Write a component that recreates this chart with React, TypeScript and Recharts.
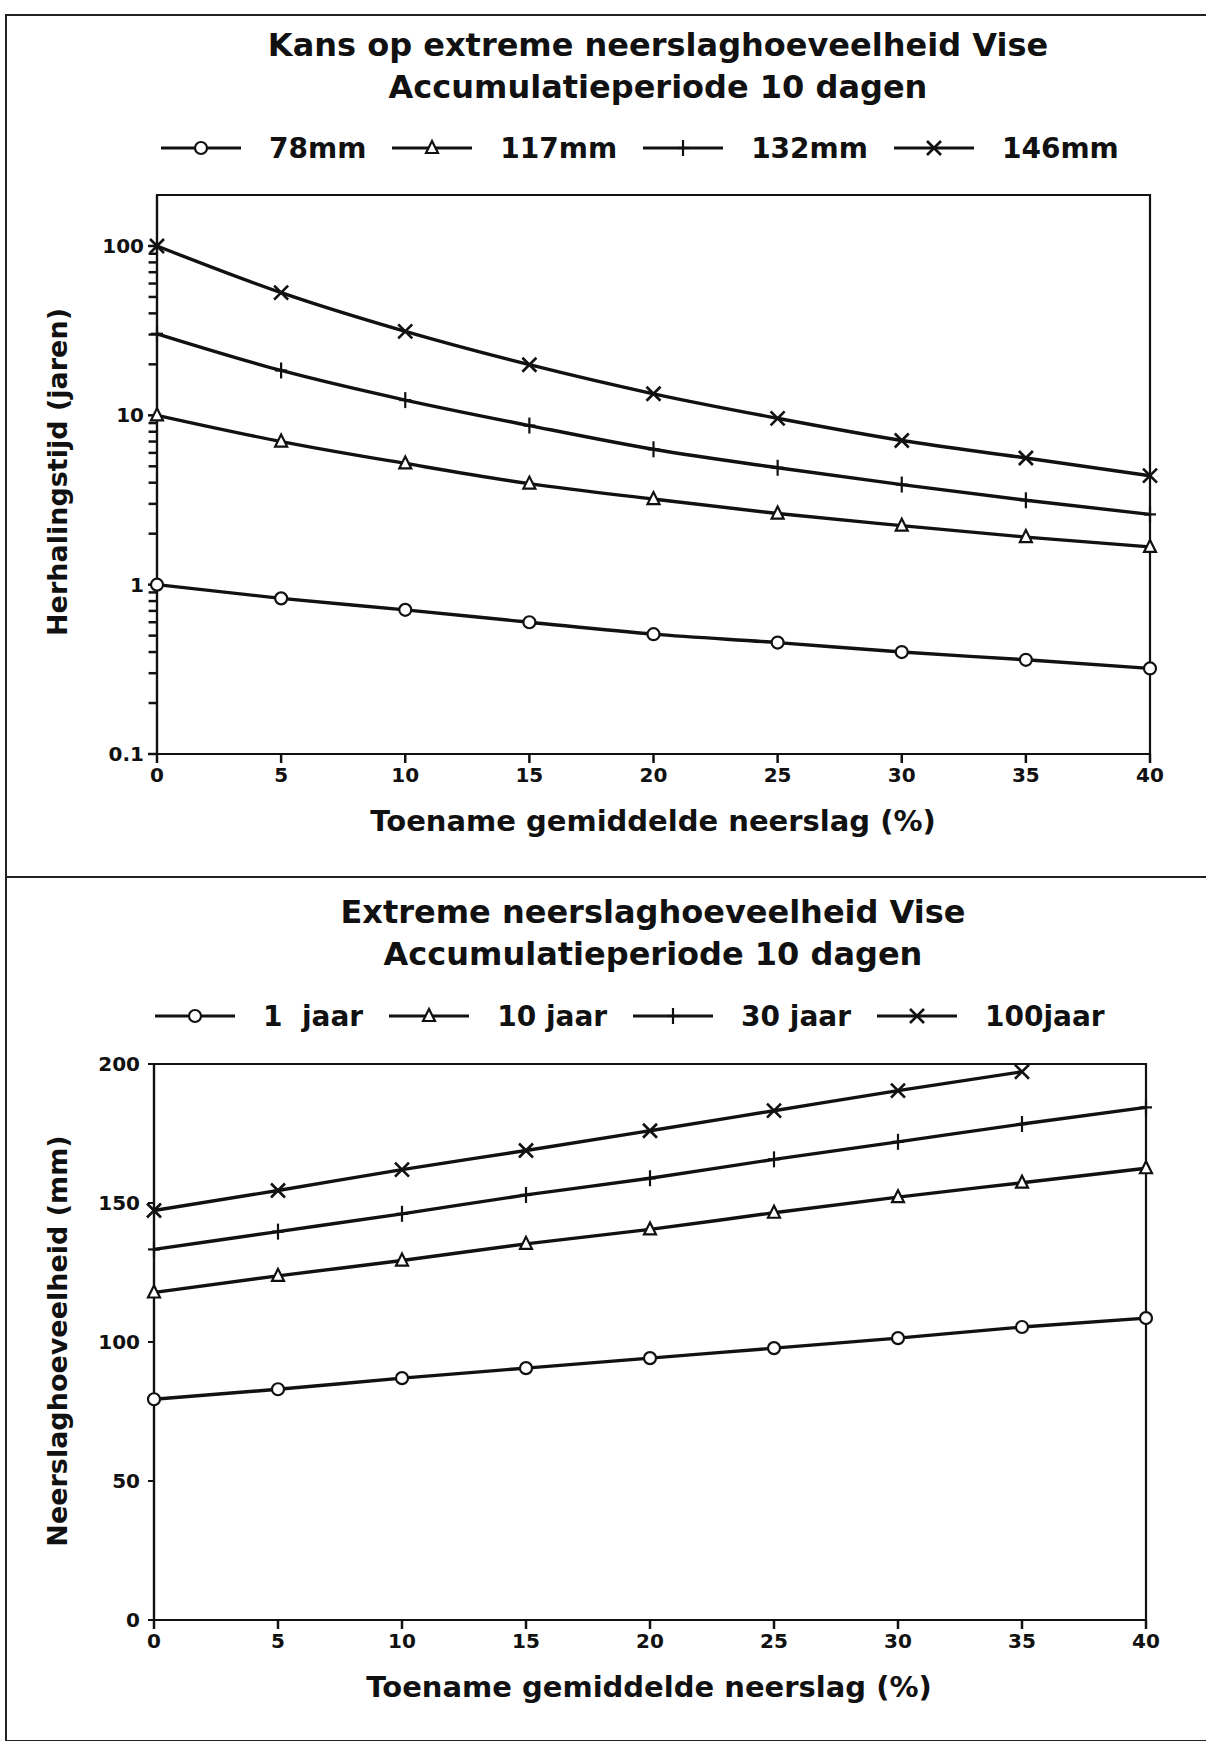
import React from 'react';
import { LineChart, Line, XAxis, YAxis, ReferenceArea, ReferenceLine } from 'recharts';

// ---------- data ----------
const xValues = [0, 5, 10, 15, 20, 25, 30, 35, 40];

// top chart: return period (years) for fixed amounts
const rp78 = [1.0, 0.83, 0.71, 0.6, 0.51, 0.455, 0.4, 0.36, 0.32];
const rp117 = [10, 7.0, 5.2, 3.95, 3.2, 2.63, 2.23, 1.91, 1.67];
const rp132 = [30.3, 18.4, 12.3, 8.7, 6.3, 4.9, 3.9, 3.15, 2.6];
const rp146 = [100, 53, 31.3, 19.9, 13.4, 9.6, 7.1, 5.6, 4.4];

// bottom chart: amount (mm) for fixed return periods
const mm1 = [79.4, 83, 87, 90.6, 94.2, 97.8, 101.4, 105.4, 108.6];
const mm10 = [117.8, 123.8, 129.3, 135.3, 140.5, 146.5, 152.1, 157.3, 162.5];
const mm30 = [133.3, 139.7, 146.1, 152.9, 158.9, 165.7, 172, 178.4, 184.4];
const mm100 = [147.3, 154.5, 162, 168.9, 176, 183.2, 190.4, 197.2, null];

const topLegend = ['78mm', '117mm', '132mm', '146mm'];
const bottomLegend = ['1  jaar', '10 jaar', '30 jaar', '100jaar'];
const markerKinds = ['circle', 'triangle', 'plus', 'cross'];

const xTicks = [0, 5, 10, 15, 20, 25, 30, 35, 40];
const logMajor = [0.1, 1, 10, 100];
const logMinor = [
  0.2, 0.3, 0.4, 0.5, 0.6, 0.7, 0.8, 0.9,
  2, 3, 4, 5, 6, 7, 8, 9,
  20, 30, 40, 50, 60, 70, 80, 90,
];
const linTicks = [0, 50, 100, 150, 200];

const topData = xValues.map((x, i) => ({ x, a: rp78[i], b: rp117[i], c: rp132[i], d: rp146[i] }));
const bottomData = xValues.map((x, i) => ({ x, a: mm1[i], b: mm10[i], c: mm30[i], d: mm100[i] }));

// ---------- styling ----------
const FONT = "'DejaVu Sans', sans-serif";
const INK = '#111';
const MINOR_TICK_LEN = 0.34; // in x-units, outside the plot to the left

function Marker({ kind, cx, cy }: { kind: string; cx: number; cy: number }) {
  if (kind === 'circle')
    return <circle cx={cx} cy={cy} r={6} fill="#fff" stroke={INK} strokeWidth={2.2} />;
  if (kind === 'triangle')
    return (
      <polygon
        points={`${cx},${cy - 7} ${cx - 6},${cy + 5} ${cx + 6},${cy + 5}`}
        fill="#fff"
        stroke={INK}
        strokeWidth={2.2}
      />
    );
  if (kind === 'plus')
    return (
      <g stroke={INK} strokeWidth={2.2}>
        <line x1={cx} y1={cy - 8} x2={cx} y2={cy + 8} />
        <line x1={cx - 6} y1={cy} x2={cx + 6} y2={cy} />
      </g>
    );
  return (
    <g stroke={INK} strokeWidth={2.6}>
      <line x1={cx - 7} y1={cy - 7} x2={cx + 7} y2={cy + 7} />
      <line x1={cx - 7} y1={cy + 7} x2={cx + 7} y2={cy - 7} />
    </g>
  );
}

const makeDot = (kind: string) => (props: any) => {
  const { cx, cy, index, value } = props;
  if (cx == null || cy == null || value == null || Number.isNaN(cy))
    return <g key={`n-${kind}-${index}`} />;
  return (
    <g key={`${kind}-${index}`}>
      <Marker kind={kind} cx={cx} cy={cy} />
    </g>
  );
};

function LegendRow({ labels, top, left }: { labels: string[]; top: number; left: number }) {
  return (
    <div
      style={{
        position: 'absolute',
        top,
        left,
        height: 36,
        display: 'flex',
        alignItems: 'center',
        fontFamily: FONT,
        fontWeight: 'bold',
        fontSize: 28,
        color: INK,
        whiteSpace: 'pre',
      }}
    >
      {labels.map((lab, i) => (
        <div key={lab} style={{ display: 'flex', alignItems: 'center', marginRight: 26 }}>
          <svg width={80} height={24}>
            <line x1={0} y1={12} x2={80} y2={12} stroke={INK} strokeWidth={3} />
            <Marker kind={markerKinds[i]} cx={40} cy={12} />
          </svg>
          <span style={{ marginLeft: 28 }}>{lab}</span>
        </div>
      ))}
    </div>
  );
}

function CenterText({ text, cx, cy, size, rotate }: { text: string; cx: number; cy: number; size: number; rotate?: boolean }) {
  return (
    <div
      style={{
        position: 'absolute',
        left: cx,
        top: cy,
        transform: `translate(-50%, -50%)${rotate ? ' rotate(-90deg)' : ''}`,
        whiteSpace: 'pre',
        fontFamily: FONT,
        fontWeight: 'bold',
        fontSize: size,
        color: INK,
        lineHeight: 1.3,
        textAlign: 'center',
      }}
    >
      {text}
    </div>
  );
}

const tickStyle = { fontSize: 20, fontWeight: 'bold', fill: INK, fontFamily: FONT } as any;
const keys = ['a', 'b', 'c', 'd'];

export default function App() {
  return (
    <div
      style={{
        position: 'absolute',
        left: 0,
        top: 0,
        width: 1206,
        height: 1741,
        background: '#fff',
        overflow: 'hidden',
      }}
    >
      {/* page frame */}
      <div style={{ position: 'absolute', left: 5, top: 14, width: 1210, height: 1724, borderLeft: '2px solid #222', borderTop: '2px solid #222', borderBottom: '2px solid #222' }} />
      <div style={{ position: 'absolute', left: 5, top: 876, width: 1210, height: 0, borderTop: '2px solid #222' }} />

      {/* ---------- top panel ---------- */}
      <CenterText text={'Kans op extreme neerslaghoeveelheid Vise\nAccumulatieperiode 10 dagen'} cx={658} cy={67} size={32} />
      <LegendRow labels={topLegend} top={130} left={161} />
      <div style={{ position: 'absolute', left: 0, top: 0 }}>
        <LineChart width={1206} height={880} data={topData} margin={{ top: 195, right: 56, bottom: 86, left: 77 }}>
          <XAxis
            dataKey="x"
            type="number"
            domain={[0, 40]}
            ticks={xTicks}
            interval={0}
            tick={tickStyle}
            tickSize={9}
            tickMargin={5}
            height={40}
            axisLine={{ stroke: INK, strokeWidth: 2.2 }}
            tickLine={{ stroke: INK, strokeWidth: 2.5 }}
          />
          <YAxis
            type="number"
            scale="log"
            domain={[0.1, 200]}
            allowDataOverflow
            ticks={logMajor}
            interval={0}
            tickFormatter={(v: number) => String(v)}
            tick={tickStyle}
            tickSize={9}
            tickMargin={4}
            width={80}
            axisLine={{ stroke: INK, strokeWidth: 2.2 }}
            tickLine={{ stroke: INK, strokeWidth: 2.5 }}
          />
          <ReferenceArea x1={0} x2={40} y1={0.1} y2={200} fill="none" stroke={INK} strokeWidth={2.2} />
          {logMinor.map((v) => (
            <ReferenceLine
              key={`m-${v}`}
              segment={[
                { x: -MINOR_TICK_LEN, y: v },
                { x: 0, y: v },
              ]}
              ifOverflow="visible"
              stroke={INK}
              strokeWidth={2.5}
            />
          ))}
          {keys.map((k, i) => (
            <Line
              key={k}
              dataKey={k}
              type="monotone"
              stroke={INK}
              strokeWidth={3.4}
              dot={makeDot(markerKinds[i])}
              activeDot={false}
              isAnimationActive={false}
            />
          ))}
        </LineChart>
      </div>
      <CenterText text="Herhalingstijd (jaren)" cx={58} cy={472} size={27} rotate />
      <CenterText text="Toename gemiddelde neerslag (%)" cx={653} cy={822} size={29} />

      {/* ---------- bottom panel ---------- */}
      <CenterText text={'Extreme neerslaghoeveelheid Vise\nAccumulatieperiode 10 dagen'} cx={653} cy={934} size={32} />
      <LegendRow labels={bottomLegend} top={998} left={155} />
      <div style={{ position: 'absolute', left: 0, top: 880 }}>
        <LineChart width={1206} height={861} data={bottomData} margin={{ top: 184, right: 60, bottom: 81, left: 74 }}>
          <XAxis
            dataKey="x"
            type="number"
            domain={[0, 40]}
            ticks={xTicks}
            interval={0}
            tick={tickStyle}
            tickSize={9}
            tickMargin={5}
            height={40}
            axisLine={{ stroke: INK, strokeWidth: 2.2 }}
            tickLine={{ stroke: INK, strokeWidth: 2.5 }}
          />
          <YAxis
            type="number"
            domain={[0, 200]}
            ticks={linTicks}
            interval={0}
            tick={tickStyle}
            tickSize={6}
            tickMargin={8}
            width={80}
            axisLine={{ stroke: INK, strokeWidth: 2.2 }}
            tickLine={{ stroke: INK, strokeWidth: 2 }}
          />
          <ReferenceArea x1={0} x2={40} y1={0} y2={200} fill="none" stroke={INK} strokeWidth={2.2} />
          {keys.map((k, i) => (
            <Line
              key={k}
              dataKey={k}
              type="monotone"
              stroke={INK}
              strokeWidth={3.4}
              dot={makeDot(markerKinds[i])}
              activeDot={false}
              isAnimationActive={false}
            />
          ))}
        </LineChart>
      </div>
      <CenterText text="Neerslaghoeveelheid (mm)" cx={58} cy={1341} size={27} rotate />
      <CenterText text="Toename gemiddelde neerslag (%)" cx={649} cy={1688} size={29} />
    </div>
  );
}
